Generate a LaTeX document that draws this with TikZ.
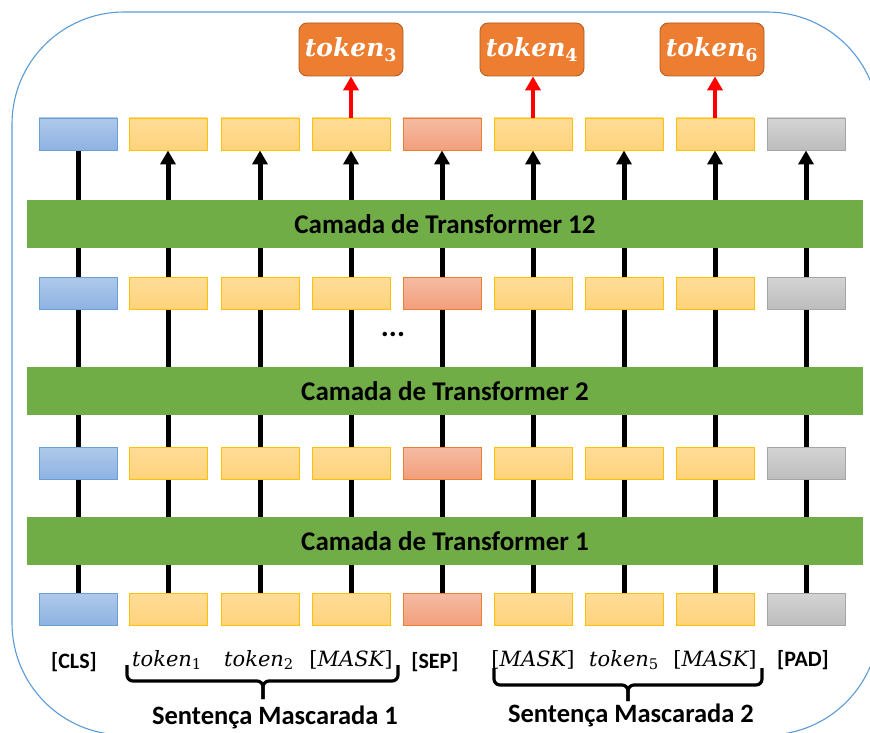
\documentclass[tikz,border=0pt]{standalone}
\usepackage{fontspec}
\setmainfont{Carlito}
\newfontfamily\tokfont{DejaVu Serif}
\usetikzlibrary{arrows.meta,backgrounds}

\definecolor{framec}{HTML}{5B9BD5}
\definecolor{barg}{HTML}{70AD47}
\definecolor{outfill}{HTML}{ED7D31}
\definecolor{outedge}{HTML}{AE5A21}
\definecolor{clstop}{HTML}{AFC9EA}
\definecolor{clsbot}{HTML}{8EB3E2}
\definecolor{clsline}{HTML}{6A9ED6}
\definecolor{toktop}{HTML}{FFDC98}
\definecolor{tokbot}{HTML}{FFD37C}
\definecolor{tokline}{HTML}{FFC000}
\definecolor{septop}{HTML}{F5BCA3}
\definecolor{sepbot}{HTML}{F29F7C}
\definecolor{sepline}{HTML}{ED7D31}
\definecolor{padtop}{HTML}{D4D4D4}
\definecolor{padbot}{HTML}{BDBDBD}
\definecolor{padline}{HTML}{A5A5A5}

% token name with an upright index, and the masked placeholder
\newcommand\tokname[1]{{\itshape token}\textsubscript{#1}}
\newcommand\maskname{[{\itshape MASK}]}

\tikzset{
  cell/.style={draw, line width=0.9pt, minimum width=78pt, minimum height=32pt, inner sep=0pt},
  clsbox/.style={cell, draw=clsline, top color=clstop, bottom color=clsbot},
  tokbox/.style={cell, draw=tokline, top color=toktop, bottom color=tokbot},
  sepbox/.style={cell, draw=sepline, top color=septop, bottom color=sepbot},
  padbox/.style={cell, draw=padline, top color=padtop, bottom color=padbot},
  layerbar/.style={fill=barg, minimum width=836pt, minimum height=48pt, inner sep=0pt,
    font=\bfseries\fontsize{27}{30}\selectfont},
  outbox/.style={fill=outfill, draw=outedge, line width=0.8pt, rounded corners=8pt,
    minimum width=104pt, minimum height=53pt, inner sep=0pt, text=white,
    font=\tokfont\bfseries\fontsize{25}{28}\selectfont},
  conn/.style={line width=5pt, black},
  uparrow/.style={conn, -{Triangle[width=15pt,length=14pt]}},
  redarrow/.style={line width=4.5pt, red, -{Triangle[width=15pt,length=14pt]}},
  lbl/.style={font=\bfseries\fontsize{22}{24}\selectfont, inner sep=0pt},
  mlbl/.style={font=\tokfont\fontsize{21}{23}\selectfont, inner sep=0pt},
  sentlbl/.style={font=\bfseries\fontsize{26.5}{28}\selectfont, inner sep=0pt},
  bracket/.style={line width=3.2pt, rounded corners=6pt},
}

\begin{document}
\begin{tikzpicture}[x=1pt, y=-1pt]
\clip (0,0) rectangle (870,733);

% outer frame
\draw[framec, line width=1.1pt, rounded corners=112pt] (12,12) rectangle (879,735);

% token cells, four rows
\foreach \r/\y in {1/134, 2/293, 3/463, 4/609} {
  \foreach \c/\x/\t in {1/78/clsbox, 2/168/tokbox, 3/260/tokbox, 4/351/tokbox,
                        5/442/sepbox, 6/533/tokbox, 7/624/tokbox, 8/715/tokbox, 9/806/padbox} {
    \node[\t] (r\r c\c) at (\x,\y) {};
  }
}

% transformer layers
\node[layerbar] (bar12) at (445,224) {Camada de Transformer 12};
\node[layerbar] (bar2)  at (445,391) {Camada de Transformer 2};
\node[layerbar] (bar1)  at (445,541) {Camada de Transformer 1};

% predicted tokens
\node[outbox] (out3) at (351,49.5) {\tokname{3}};
\node[outbox] (out4) at (532,49.5) {\tokname{4}};
\node[outbox] (out6) at (712,49.5) {\tokname{6}};

\node[font=\bfseries\fontsize{30}{32}\selectfont, inner sep=0pt] (dots) at (393,334) {...};

% connectors behind the cells
\begin{scope}[on background layer]
  \draw[conn] (r1c1 |- bar12.north) -- (r1c1.south);
  \foreach \c in {2,...,9} {
    \draw[uparrow] (r1c\c |- bar12.north) -- (r1c\c.south);
  }
  \foreach \c in {1,...,9} {
    \draw[conn] (r2c\c |- bar12.south) -- (r2c\c |- bar2.north);
    \draw[conn] (r3c\c |- bar2.south) -- (r3c\c |- bar1.north);
    \draw[conn] (r4c\c |- bar1.south) -- (r4c\c.south);
  }
\end{scope}

\draw[redarrow] (r1c4.north) -- (r1c4.north |- out3.south);
\draw[redarrow] (r1c6.north) -- (r1c6.north |- out4.south);
\draw[redarrow] (r1c8.north) -- (r1c8.north |- out6.south);

% input labels
\node[lbl]  (lcls)  at (74,662)  {[CLS]};
\node[mlbl] (lt1)   at (167,660) {\tokname{1}};
\node[mlbl] (lt2)   at (259,660) {\tokname{2}};
\node[mlbl] (lm1)   at (351,660) {\maskname};
\node[lbl]  (lsep)  at (435,662) {[SEP]};
\node[mlbl] (lm2)   at (533,660) {\maskname};
\node[mlbl] (lt5)   at (624,660) {\tokname{5}};
\node[mlbl] (lm3)   at (715,660) {\maskname};
\node[lbl]  (lpad)  at (803,660) {[PAD]};

% sentence braces
\coordinate (b1s) at (127,665);
\coordinate (b1e) at (398,665);
\coordinate (b1m) at (263,681);
\coordinate (b1t) at (263,699);
\coordinate (b2s) at (494,668);
\coordinate (b2e) at (762,668);
\coordinate (b2m) at (628,685);
\coordinate (b2t) at (628,701);
\draw[bracket] (b1s) |- (b1m) -- (b1t);
\draw[bracket] (b1e) |- (b1m) -- (b1t);
\draw[bracket] (b2s) |- (b2m) -- (b2t);
\draw[bracket] (b2e) |- (b2m) -- (b2t);

\node[sentlbl] (s1) at (275,717) {Sentença Mascarada 1};
\node[sentlbl] (s2) at (631,715) {Sentença Mascarada 2};
\end{tikzpicture}
\end{document}
